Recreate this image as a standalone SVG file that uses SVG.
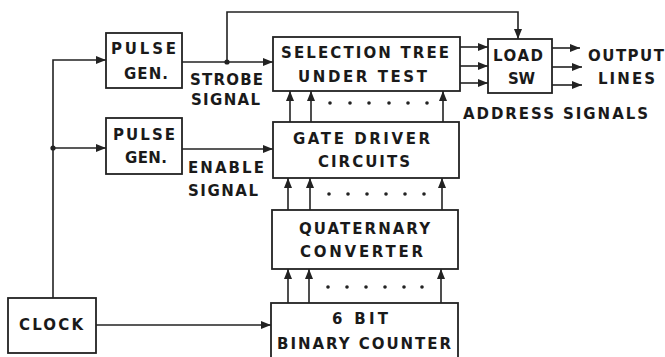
<svg xmlns="http://www.w3.org/2000/svg" width="665" height="357" viewBox="0 0 665 357">
<style>
.box{fill:#fff;stroke:#222;stroke-width:1.8}
.ln{fill:none;stroke:#222;stroke-width:1.6}
text{font-family:"DejaVu Sans","Liberation Sans",Arial,sans-serif;font-weight:bold;font-size:15px;fill:#1a1a1a}
.dot{fill:#222}
</style>
<defs>
<marker id="ah" markerUnits="userSpaceOnUse" markerWidth="10" markerHeight="8" refX="10" refY="4" orient="auto">
<path d="M0,0 L10,4 L0,8 Z" fill="#222"/>
</marker>
</defs>
<rect width="665" height="357" fill="#fff"/>
<g id="connectors">
<path class="ln" d="M53,298 V60 H106" marker-end="url(#ah)"/>
<path class="ln" d="M53,148 H106" marker-end="url(#ah)"/>
<path class="ln" d="M182,62 H273" marker-end="url(#ah)"/>
<path class="ln" d="M227,62 V12 H518 V39" marker-end="url(#ah)"/>
<path class="ln" d="M182,149 H273" marker-end="url(#ah)"/>
<path class="ln" d="M96,325 H271" marker-end="url(#ah)"/>
<path class="ln" d="M460,47 H488" marker-end="url(#ah)"/>
<path class="ln" d="M460,66 H488" marker-end="url(#ah)"/>
<path class="ln" d="M460,83 H488" marker-end="url(#ah)"/>
<path class="ln" d="M552,48 H580" marker-end="url(#ah)"/>
<path class="ln" d="M552,67 H582" marker-end="url(#ah)"/>
<path class="ln" d="M552,85 H582" marker-end="url(#ah)"/>
<path class="ln" d="M290,122 V91" marker-end="url(#ah)"/>
<path class="ln" d="M311,122 V91" marker-end="url(#ah)"/>
<path class="ln" d="M443,122 V91" marker-end="url(#ah)"/>
<path class="ln" d="M288,210 V178" marker-end="url(#ah)"/>
<path class="ln" d="M310,210 V178" marker-end="url(#ah)"/>
<path class="ln" d="M442,210 V178" marker-end="url(#ah)"/>
<path class="ln" d="M288,303 V269" marker-end="url(#ah)"/>
<path class="ln" d="M309,303 V269" marker-end="url(#ah)"/>
<path class="ln" d="M441,303 V269" marker-end="url(#ah)"/>
<circle class="dot" cx="53" cy="148" r="2.6"/>
<circle class="dot" cx="227" cy="62" r="2.6"/>
<g class="dot">
<circle cx="330" cy="103" r="1.8"/><circle cx="350" cy="103" r="1.8"/><circle cx="369" cy="103" r="1.8"/><circle cx="389" cy="103" r="1.8"/><circle cx="408" cy="103" r="1.8"/><circle cx="427" cy="103" r="1.8"/>
<circle cx="329" cy="194" r="1.8"/><circle cx="348" cy="194" r="1.8"/><circle cx="367" cy="194" r="1.8"/><circle cx="386" cy="194" r="1.8"/><circle cx="405" cy="194" r="1.8"/><circle cx="424" cy="194" r="1.8"/>
<circle cx="328" cy="287" r="1.8"/><circle cx="347" cy="287" r="1.8"/><circle cx="366" cy="287" r="1.8"/><circle cx="385" cy="287" r="1.8"/><circle cx="404" cy="287" r="1.8"/><circle cx="422" cy="287" r="1.8"/>
</g>
</g>
<g id="pulse1">
<rect class="box" x="106" y="33" width="76" height="55"/>
<text x="111" y="54" textLength="65" lengthAdjust="spacing">PULSE</text>
<text x="124" y="79" textLength="44" lengthAdjust="spacing">GEN.</text>
</g>
<g id="pulse2">
<rect class="box" x="106" y="118" width="76" height="56"/>
<text x="113" y="140" textLength="62" lengthAdjust="spacing">PULSE</text>
<text x="125" y="163" textLength="42" lengthAdjust="spacing">GEN.</text>
</g>
<g id="strobe-label">
<text x="190" y="85" textLength="73" lengthAdjust="spacing">STROBE</text>
<text x="191" y="105" textLength="69" lengthAdjust="spacing">SIGNAL</text>
</g>
<g id="enable-label">
<text x="188" y="173" textLength="76" lengthAdjust="spacing">ENABLE</text>
<text x="188" y="196" textLength="70" lengthAdjust="spacing">SIGNAL</text>
</g>
<g id="selection">
<rect class="box" x="273" y="37" width="187" height="54"/>
<text x="281" y="58" textLength="168" lengthAdjust="spacing">SELECTION TREE</text>
<text x="298" y="82" textLength="129" lengthAdjust="spacing">UNDER TEST</text>
</g>
<g id="load">
<rect class="box" x="488" y="39" width="64" height="54"/>
<text x="493" y="61" textLength="50" lengthAdjust="spacing">LOAD</text>
<text x="508" y="84" textLength="27" lengthAdjust="spacing">SW</text>
</g>
<g id="output-label">
<text x="588" y="61" textLength="76" lengthAdjust="spacing">OUTPUT</text>
<text x="598" y="84" textLength="57" lengthAdjust="spacing">LINES</text>
</g>
<g id="address-label">
<text x="463" y="119" textLength="185" lengthAdjust="spacing">ADDRESS SIGNALS</text>
</g>
<g id="gate">
<rect class="box" x="273" y="122" width="186" height="56"/>
<text x="293" y="144" textLength="137" lengthAdjust="spacing">GATE DRIVER</text>
<text x="318" y="167" textLength="92" lengthAdjust="spacing">CIRCUITS</text>
</g>
<g id="quaternary">
<rect class="box" x="272" y="210" width="186" height="59"/>
<text x="299" y="234" textLength="131" lengthAdjust="spacing">QUATERNARY</text>
<text x="300" y="257" textLength="123" lengthAdjust="spacing">CONVERTER</text>
</g>
<g id="counter">
<rect class="box" x="271" y="303" width="187" height="60"/>
<text x="332" y="324" textLength="56" lengthAdjust="spacing">6 BIT</text>
<text x="277" y="349" textLength="174" lengthAdjust="spacing">BINARY COUNTER</text>
</g>
<g id="clock">
<rect class="box" x="8" y="298" width="88" height="55"/>
<text x="19" y="330" textLength="64" lengthAdjust="spacing">CLOCK</text>
</g>
</svg>
